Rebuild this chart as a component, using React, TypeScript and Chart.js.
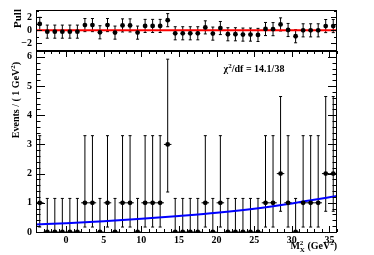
import React, { useEffect, useRef } from "react";
import { Chart, registerables } from "chart.js";
Chart.register(...registerables);

const FONT = "'Liberation Serif', 'Times New Roman', serif";

// bin centres (1 GeV^2 bins)
const binCenters = [
  -3.5, -2.5, -1.5, -0.5, 0.5, 1.5, 2.5, 3.5, 4.5, 5.5, 6.5, 7.5, 8.5, 9.5,
  10.5, 11.5, 12.5, 13.5, 14.5, 15.5, 16.5, 17.5, 18.5, 19.5, 20.5, 21.5, 22.5,
  23.5, 24.5, 25.5, 26.5, 27.5, 28.5, 29.5, 30.5, 31.5, 32.5, 33.5, 34.5, 35.5,
];
// events per bin
const counts = [
  1, 0, 0, 0, 0, 0, 1, 1, 0, 1, 0, 1, 1, 0, 1, 1, 1, 3, 0, 0, 0, 0, 1, 0, 1, 0,
  0, 0, 0, 0, 1, 1, 2, 1, 0, 1, 1, 1, 2, 2,
];
// pulls per bin
const pulls = [
  0.98, -0.2, -0.2, -0.2, -0.2, -0.2, 0.8, 0.8, -0.3, 0.8, -0.35, 0.75, 0.75,
  -0.35, 0.67, 0.67, 0.67, 1.55, -0.45, -0.45, -0.45, -0.45, 0.45, -0.5, 0.35,
  -0.6, -0.6, -0.65, -0.65, -0.7, 0.2, 0.18, 0.9, 0.05, -0.9, 0.0, 0.0, 0.0,
  0.65, 0.65,
];
const pullErr = 1;
// asymmetric (Poisson) errors indexed by count
const errUpByCount = [1.15, 2.3, 2.64, 2.92];
const errDownByCount = [0, 0.83, 1.29, 1.63];
// fit curve samples
const fitX = [-4, 0, 5, 10, 15, 20, 25, 30, 36];
const fitY = [0.26, 0.3, 0.37, 0.45, 0.55, 0.66, 0.8, 0.98, 1.23];

const xTicks = [0, 5, 10, 15, 20, 25, 30, 35];
const yTicks = [0, 1, 2, 3, 4, 5, 6];
const pullTicks = [-2, 0, 2];
const chiText = "χ²/df = 14.1/38";

const X_MIN = -4, X_MAX = 36;

type Part = { t: string; k: "n" | "sup" | "sub" };

function drawParts(ctx: CanvasRenderingContext2D, parts: Part[], x0: number, y: number, size: number, align: "left" | "center" | "right") {
  const small = Math.round(size * 0.7);
  const measure = () => {
    let x = 0, supStart = 0, supEnd = 0;
    const pos: number[] = [];
    parts.forEach((p, i) => {
      ctx.font = `bold ${p.k === "n" ? size : small}px ${FONT}`;
      const w = ctx.measureText(p.t).width;
      if (p.k === "sub" && i > 0 && parts[i - 1].k === "sup") {
        pos.push(supStart);
        x = Math.max(supEnd, supStart + w);
      } else {
        if (p.k === "sup") supStart = x;
        pos.push(x);
        x += w;
        if (p.k === "sup") supEnd = x;
      }
    });
    return { pos, width: x };
  };
  const { pos, width } = measure();
  const start = align === "left" ? x0 : align === "center" ? x0 - width / 2 : x0 - width;
  ctx.textAlign = "left";
  ctx.textBaseline = "alphabetic";
  ctx.fillStyle = "#000";
  parts.forEach((p, i) => {
    ctx.font = `bold ${p.k === "n" ? size : small}px ${FONT}`;
    const dy = p.k === "sup" ? -size * 0.4 : p.k === "sub" ? size * 0.25 : 0;
    ctx.fillText(p.t, start + pos[i], y + dy);
  });
}

function seg(ctx: CanvasRenderingContext2D, x1: number, y1: number, x2: number, y2: number) {
  ctx.beginPath();
  ctx.moveTo(x1, y1);
  ctx.lineTo(x2, y2);
  ctx.stroke();
}

function drawFrame(ctx: CanvasRenderingContext2D, a: any) {
  ctx.strokeStyle = "#000";
  ctx.lineWidth = 1;
  ctx.strokeRect(a.left + 0.5, a.top + 0.5, a.right - a.left - 1, a.bottom - a.top);
}

const mainPlugin = {
  id: "mainDecor",
  beforeDatasetsDraw(chart: any) {
    const { ctx, chartArea: a, scales } = chart;
    const x = scales.x, y = scales.y;
    ctx.save();
    ctx.beginPath();
    ctx.rect(a.left, a.top, a.right - a.left, a.bottom - a.top);
    ctx.clip();
    ctx.strokeStyle = "#000";
    ctx.lineWidth = 1;
    counts.forEach((c, i) => {
      const px = x.getPixelForValue(binCenters[i]);
      const yv = y.getPixelForValue(c);
      const yt = y.getPixelForValue(c + errUpByCount[c]);
      const yb = y.getPixelForValue(c - errDownByCount[c]);
      seg(ctx, px, yt, px, yb);
      seg(ctx, px - 1.5, yt, px + 1.5, yt);
      seg(ctx, px - 1.5, yb, px + 1.5, yb);
      seg(ctx, x.getPixelForValue(binCenters[i] - 0.5), yv, x.getPixelForValue(binCenters[i] + 0.5), yv);
    });
    ctx.restore();
  },
  afterDraw(chart: any) {
    const { ctx, chartArea: a, scales } = chart;
    const x = scales.x, y = scales.y;
    ctx.save();
    drawFrame(ctx, a);
    ctx.strokeStyle = "#000";
    ctx.lineWidth = 1;
    // x ticks (bottom and top)
    for (let v = X_MIN; v <= X_MAX; v += 1) {
      const px = Math.round(x.getPixelForValue(v)) + 0.5;
      const len = v % 5 === 0 ? 6 : 3;
      seg(ctx, px, a.bottom, px, a.bottom - len);
      seg(ctx, px, a.top, px, a.top + len);
    }
    // y ticks (left and right)
    for (let k = 0; k <= 31; k++) {
      const v = k * 0.2;
      if (v > y.max) break;
      const py = Math.round(y.getPixelForValue(v)) + 0.5;
      const len = k % 5 === 0 ? 9 : 4.5;
      seg(ctx, a.left, py, a.left + len, py);
      seg(ctx, a.right, py, a.right - len, py);
    }
    // chi2 text
    drawParts(ctx, [
      { t: "χ", k: "n" }, { t: "2", k: "sup" }, { t: "/df = 14.1/38", k: "n" },
    ], 254, 72, 10, "center");
    // x title
    drawParts(ctx, [
      { t: "M", k: "n" }, { t: "2", k: "sup" }, { t: "X", k: "sub" }, { t: " (GeV", k: "n" }, { t: "2", k: "sup" }, { t: ")", k: "n" },
    ], a.right, 249, 10, "right");
    // y title
    ctx.translate(15, 100);
    ctx.rotate(-Math.PI / 2);
    drawParts(ctx, [
      { t: "Events / ( 1 GeV", k: "n" }, { t: "2", k: "sup" }, { t: ")", k: "n" },
    ], 0, 4, 10, "center");
    ctx.restore();
  },
};

const pullPlugin = {
  id: "pullDecor",
  beforeDatasetsDraw(chart: any) {
    const { ctx, chartArea: a, scales } = chart;
    const x = scales.x, y = scales.y;
    ctx.save();
    ctx.beginPath();
    ctx.rect(a.left, a.top, a.right - a.left, a.bottom - a.top);
    ctx.clip();
    ctx.strokeStyle = "#000";
    ctx.lineWidth = 1;
    pulls.forEach((p, i) => {
      const px = x.getPixelForValue(binCenters[i]);
      const yt = y.getPixelForValue(p + pullErr);
      const yb = y.getPixelForValue(p - pullErr);
      seg(ctx, px, yt, px, yb);
      seg(ctx, px - 1.5, yt, px + 1.5, yt);
      seg(ctx, px - 1.5, yb, px + 1.5, yb);
    });
    ctx.restore();
  },
  afterDraw(chart: any) {
    const { ctx, chartArea: a, scales } = chart;
    const y = scales.y;
    ctx.save();
    drawFrame(ctx, a);
    ctx.strokeStyle = "#000";
    ctx.lineWidth = 1;
    for (let v = -3; v <= 3; v += 1) {
      const py = Math.round(y.getPixelForValue(v)) + 0.5;
      const len = v % 2 === 0 ? 6 : 3;
      seg(ctx, a.left, py, a.left + len, py);
      seg(ctx, a.right, py, a.right - len, py);
    }
    ctx.translate(17, 18.5);
    ctx.rotate(-Math.PI / 2);
    drawParts(ctx, [{ t: "Pull", k: "n" }], 0, 4, 11, "center");
    ctx.restore();
  },
};

const tickFont = { family: FONT, size: 10, weight: "bold" as const };

export default function App() {
  const mainRef = useRef<HTMLCanvasElement | null>(null);
  const pullRef = useRef<HTMLCanvasElement | null>(null);

  useEffect(() => {
    const main = new Chart(mainRef.current as HTMLCanvasElement, {
      type: "scatter",
      data: {
        datasets: [
          {
            type: "line",
            data: fitX.map((v, i) => ({ x: v, y: fitY[i] })),
            borderColor: "#0000ff",
            borderWidth: 2,
            pointRadius: 0,
            cubicInterpolationMode: "monotone",
            fill: false,
            order: 1,
          } as any,
          {
            type: "scatter",
            data: binCenters.map((v, i) => ({ x: v, y: counts[i] })),
            pointRadius: 2.4,
            pointBackgroundColor: "#000",
            pointBorderColor: "#000",
            pointBorderWidth: 0,
            order: 0,
          } as any,
        ],
      },
      options: {
        animation: false,
        responsive: false,
        maintainAspectRatio: false,
        layout: { padding: { top: 51, right: 37, left: 0, bottom: 0 } },
        plugins: { legend: { display: false }, tooltip: { enabled: false } },
        scales: {
          x: {
            type: "linear",
            min: X_MIN,
            max: X_MAX,
            afterBuildTicks: (s: any) => { s.ticks = xTicks.map((v) => ({ value: v })); },
            afterFit: (s: any) => { s.height = 23; },
            grid: { display: false, drawTicks: false },
            border: { display: false },
            ticks: { color: "#000", font: tickFont, padding: 2, maxRotation: 0, autoSkip: false },
          },
          y: {
            type: "linear",
            min: 0,
            max: 6.2,
            afterBuildTicks: (s: any) => { s.ticks = yTicks.map((v) => ({ value: v })); },
            afterFit: (s: any) => { s.width = 36; },
            grid: { display: false, drawTicks: false },
            border: { display: false },
            ticks: { color: "#000", font: tickFont, padding: 4, autoSkip: false },
          },
        },
      } as any,
      plugins: [mainPlugin],
    });

    const pull = new Chart(pullRef.current as HTMLCanvasElement, {
      type: "scatter",
      data: {
        datasets: [
          {
            type: "line",
            data: [{ x: X_MIN, y: 0 }, { x: X_MAX, y: 0 }],
            borderColor: "#ff0000",
            borderWidth: 2,
            pointRadius: 0,
            order: 1,
          } as any,
          {
            type: "scatter",
            data: binCenters.map((v, i) => ({ x: v, y: pulls[i] })),
            pointRadius: 2.4,
            pointBackgroundColor: "#000",
            pointBorderColor: "#000",
            pointBorderWidth: 0,
            order: 0,
          } as any,
        ],
      },
      options: {
        animation: false,
        responsive: false,
        maintainAspectRatio: false,
        layout: { padding: { top: 5, right: 37, left: 0, bottom: 9 } },
        plugins: { legend: { display: false }, tooltip: { enabled: false } },
        scales: {
          x: { type: "linear", min: X_MIN, max: X_MAX, display: false },
          y: {
            type: "linear",
            min: -3,
            max: 3.1,
            afterBuildTicks: (s: any) => { s.ticks = pullTicks.map((v) => ({ value: v })); },
            afterFit: (s: any) => { s.width = 36; },
            grid: { display: false, drawTicks: false },
            border: { display: false },
            ticks: {
              color: "#000",
              font: tickFont,
              padding: 4,
              autoSkip: false,
              callback: (v: any) => (Number(v) < 0 ? "\u2212" + Math.abs(Number(v)) : String(v)),
            },
          },
        },
      } as any,
      plugins: [pullPlugin],
    });

    return () => {
      main.destroy();
      pull.destroy();
    };
  }, []);

  return (
    <div style={{ position: "absolute", left: 0, top: 0, width: 374, height: 255, background: "#fff" }}>
      <canvas ref={mainRef} width={374} height={255} style={{ position: "absolute", left: 0, top: 0, width: 374, height: 255 }} />
      <canvas ref={pullRef} width={374} height={60} style={{ position: "absolute", left: 0, top: 0, width: 374, height: 60 }} />
    </div>
  );
}
